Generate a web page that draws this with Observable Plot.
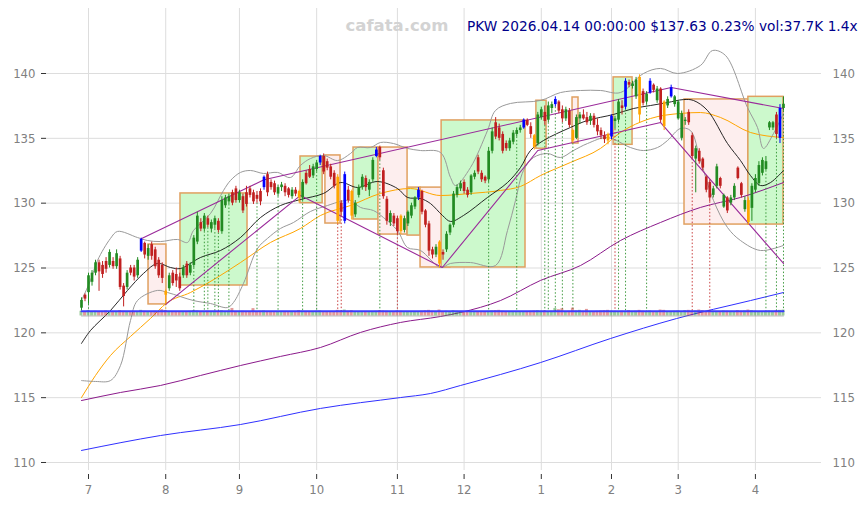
<!DOCTYPE html>
<html><head><meta charset="utf-8">
<script src="https://cdn.jsdelivr.net/npm/d3@7"></script>
<script src="https://cdn.jsdelivr.net/npm/@observablehq/plot@0.6"></script>
<style>
html,body{margin:0;padding:0;background:#fff;}
</style></head>
<body><div id="chart"></div>
<script>
// ---- data (bar index 0 = 2025-06-27, 200 = 2026-04-14) ----
const opens = [
121.9,122.9,123.1,123.9,124.6,125.4,125.2,125.5,125.2,125.5,
125.1,125.7,123.6,123.5,125.0,125.0,124.4,126.3,126.9,125.9,
126.8,126.4,125.6,125.2,123.2,123.4,124.6,124.5,124.3,124.4,
125.3,124.6,125.2,127.0,128.5,128.0,128.8,128.0,128.3,128.6,
127.8,129.8,130.1,130.8,131.1,130.2,130.5,130.8,131.1,130.8,
130.6,130.9,131.2,132.2,131.6,131.5,130.7,131.2,131.3,131.1,
130.5,131.0,130.9,130.4,132.3,132.6,132.1,132.6,133.1,133.6,
133.2,132.8,132.3,132.0,130.0,128.6,131.0,130.9,129.1,130.6,
131.2,131.9,131.0,131.8,133.6,134.3,132.5,130.3,128.5,129.0,
128.8,129.0,127.9,128.4,129.0,129.7,130.4,130.9,129.4,128.4,
126.4,126.0,127.0,126.2,126.4,127.7,128.3,130.6,131.1,131.6,
131.0,130.8,132.0,133.5,132.3,132.0,131.8,134.0,136.2,135.8,
135.3,134.6,134.2,134.7,135.3,135.6,135.8,136.4,135.9,135.2,
134.6,136.6,137.0,136.4,137.3,137.6,137.8,137.2,136.5,137.1,
135.6,135.0,136.5,136.8,136.6,136.3,136.7,136.0,135.6,135.2,
135.3,135.1,136.3,136.4,137.5,137.4,139.3,139.0,138.2,139.7,
138.6,137.8,138.5,139.1,137.9,138.8,137.8,137.5,138.2,137.6,
136.5,135.0,136.3,137.0,135.2,133.4,134.0,133.4,132.0,131.6,
130.6,131.3,131.9,129.7,130.4,130.0,130.4,132.7,131.5,129.5,
130.2,129.6,131.0,131.5,132.3,132.6,135.8,135.8,136.8,135.0,
137.3];
const highs = [
122.7,123.0,124.6,124.8,125.6,125.6,125.5,125.8,126.4,125.8,
126.4,125.9,123.8,124.8,125.2,125.2,125.8,127.3,127.0,126.8,
127.0,126.6,125.8,125.4,123.3,124.6,124.8,125.0,124.6,125.2,
125.5,125.4,127.5,129.3,128.8,129.2,129.0,128.7,129.0,128.8,
130.5,130.6,130.7,131.0,131.3,131.0,130.7,131.3,131.3,131.0,
130.9,131.1,132.1,132.4,131.8,131.7,131.4,131.6,131.5,131.2,
131.2,131.2,131.0,131.8,132.5,132.9,133.0,133.3,133.7,133.8,
133.4,133.0,132.5,132.2,130.2,132.4,131.3,131.0,130.2,131.4,
132.2,132.1,131.8,133.5,134.3,134.4,132.7,130.5,129.4,129.2,
129.0,129.1,129.0,129.4,130.0,130.5,131.2,131.0,129.5,128.6,
126.6,126.8,127.1,126.4,127.8,128.4,130.9,131.4,131.7,131.8,
131.2,132.2,132.5,133.7,132.5,132.1,134.3,135.8,136.6,136.1,
135.5,134.8,135.0,135.6,135.8,136.0,136.5,136.5,136.2,135.3,
137.0,137.4,137.5,137.8,137.8,138.2,137.9,137.5,137.4,137.3,
135.7,136.8,137.0,137.2,137.0,136.9,136.9,136.5,135.8,135.5,
135.4,136.8,136.7,138.0,137.9,139.6,139.5,139.4,139.7,139.9,
138.8,138.6,139.6,139.2,139.0,138.9,137.9,138.2,139.1,138.3,
137.9,137.1,136.6,137.2,135.4,134.4,134.2,133.5,132.1,131.8,
131.3,133.0,132.0,130.7,130.5,130.6,131.5,132.8,131.6,130.5,
130.4,131.5,132.2,133.2,133.5,133.6,136.3,136.3,137.0,137.6,
138.2];
const lows = [
121.7,122.4,122.2,123.6,124.4,123.2,124.2,124.6,125.0,124.9,
124.9,123.3,122.0,123.3,124.4,124.0,124.2,126.2,125.7,125.6,
125.6,124.9,124.2,123.8,122.2,123.2,123.6,123.5,123.2,124.2,
124.2,124.4,125.0,126.8,127.8,127.8,128.1,127.7,128.0,127.7,
127.6,129.6,129.9,129.8,130.0,130.0,129.2,129.7,130.4,129.9,
130.0,129.8,131.0,130.5,131.0,130.6,130.5,130.9,130.5,130.4,
130.3,130.5,130.0,130.2,131.4,131.9,131.9,132.4,132.9,132.2,
132.5,131.8,131.1,128.4,129.0,128.4,130.0,128.7,128.9,130.4,
131.0,130.9,130.5,131.6,133.5,133.3,130.3,128.3,128.2,128.2,
127.6,127.6,127.7,128.2,128.8,129.5,130.2,129.1,128.1,125.9,
125.7,125.8,125.0,125.6,126.2,127.5,128.1,130.4,130.9,130.7,
130.4,130.6,131.8,132.2,131.6,131.5,131.6,133.8,134.9,134.8,
133.8,134.0,134.0,134.5,135.1,135.4,135.7,135.9,135.0,134.1,
134.4,136.4,136.0,136.2,136.9,137.4,136.9,136.2,136.3,135.8,
134.6,134.9,136.1,136.4,136.0,136.0,135.8,135.2,134.9,134.6,
134.5,134.9,135.7,136.2,136.8,137.2,138.9,138.8,138.0,136.2,
137.5,137.6,138.4,138.5,137.7,136.2,135.6,137.3,138.1,137.4,
136.4,134.8,136.0,136.0,133.4,130.8,133.0,132.5,130.8,130.1,
130.4,131.1,131.1,129.6,129.2,129.8,130.2,131.8,130.4,129.3,
128.3,128.6,130.8,131.3,132.1,132.5,135.6,135.6,135.0,134.6,
137.1];
const closes = [
122.5,122.6,124.4,124.6,125.4,124.7,124.5,124.9,126.2,125.1,
126.1,123.5,122.8,124.6,124.6,124.3,125.6,127.2,126.0,126.5,
125.9,125.1,124.4,124.2,122.9,124.4,123.8,124.0,123.4,125.0,
124.4,125.2,127.3,129.0,128.0,129.0,128.3,128.5,128.8,127.9,
130.2,130.4,130.5,130.0,130.2,130.8,129.4,129.9,130.6,130.1,
130.3,130.1,132.0,130.8,131.2,130.8,131.2,131.4,130.8,130.6,
131.0,130.7,130.4,131.6,131.5,132.0,132.8,133.1,133.6,132.4,
132.7,132.0,131.3,128.6,129.3,132.2,130.2,129.0,130.0,131.2,
132.0,131.2,131.6,133.3,134.1,133.5,130.5,128.6,129.2,128.4,
127.8,127.8,128.8,129.3,129.8,130.4,131.0,129.3,128.3,126.3,
126.0,126.6,125.3,126.0,127.6,128.3,130.7,131.2,131.5,130.9,
130.6,132.1,132.3,132.4,131.8,131.7,134.0,135.5,135.1,135.0,
134.0,134.2,134.8,135.4,135.6,135.8,136.4,136.0,135.3,134.3,
136.8,137.2,136.3,137.5,137.6,138.0,137.1,136.5,137.2,136.0,
134.8,136.6,136.8,136.5,136.2,136.7,136.0,135.5,135.2,134.9,
134.8,136.7,136.5,137.8,137.3,139.4,139.1,139.2,139.5,136.8,
137.7,138.4,139.4,138.7,138.8,136.4,135.9,138.0,138.9,138.2,
137.8,136.9,136.4,136.2,133.6,134.2,133.2,132.7,131.0,130.4,
131.1,132.8,131.3,130.6,129.4,130.4,131.3,131.9,130.6,130.2,
128.5,131.3,131.9,132.9,133.3,133.2,136.2,136.2,135.3,137.3,
137.63];
const volumes = [
30,25,35,28,30,26,24,32,27,25, 26,34,30,25,22,24,28,36,30,26,
28,30,27,40,35,26,24,25,28,23, 22,30,34,32,25,26,30,24,28,26,
33,27,30,48,28,26,30,25,27,47, 28,30,32,26,24,22,28,26,25,24,
26,24,35,30,28,26,27,30,32,28, 26,24,28,36,32,38,30,34,28,26,
25,24,26,28,30,34,32,30,26,28, 32,30,26,24,22,26,28,30,33,36,
30,28,38,26,30,28,34,30,26,24, 25,27,24,26,28,25,30,32,34,36,
30,28,26,24,25,27,26,28,30,32, 34,30,32,26,30,48,40,46,28,30,
50,32,36,30,42,28,26,30,32,34, 36,30,28,26,30,28,34,26,30,36,
30,28,32,26,24,38,36,28,26,30, 32,28,34,36,30,32,38,34,28,36,
30,28,26,32,30,28,26,34,30,32, 38,34,30,28,26,24,32,30,34,36,
38];
const blueIdx = [17,52,68,75,84,96,126,135,151,155,162,168,199];
const orangeIdx = [24,62,73,77,91,102,129,140,150,159,166,190];
const greenDots = [2,32,35,36,38,39,42,50,56,63,67,85,116,124,132,133,135,137,140,153,155,161,195,198,200];
const redDots = [73,74,90,152,174,179];
const orangeDots = [24];

// moving averages and bands: [bar index, price]
const ma20 = [[0,119.18],[2.56,120.18],[8.26,121.72],[13.11,123.27],[17.66,124.58],[21.65,125.35],[25.36,125.04],[28.2,124.96],[33.9,125.81],[39.6,126.35],[45.3,127.35],[51,128.89],[56.7,129.82],[62.39,130.28],[68.95,130.75],[73.79,131.59],[78.63,131.21],[84.33,131.67],[90.03,131.13],[92.88,130.44],[96.58,130.36],[99.43,129.97],[102.85,129.05],[105.13,128.59],[108.83,129.05],[115.67,130.44],[121.37,131.59],[125.07,132.75],[127.92,134.06],[131.62,134.83],[139.32,135.84],[144.16,136.38],[151.57,136.84],[157.26,137.3],[162.11,137.53],[166.95,137.76],[171.51,137.99],[174.36,137.92],[178.35,137.15],[184.05,134.6],[187.75,133.29],[190.6,132.13],[193.45,131.36],[196.3,131.59],[200,132.52]];
const ma50 = [[0,115.01],[3.99,116.71],[8.26,118.25],[13.96,119.72],[19.66,121.11],[24.22,122.29],[31.05,123.11],[38.18,124.19],[45.3,125.42],[53.85,126.97],[62.39,128.05],[68.09,129.05],[76.64,129.82],[85.19,130.75],[93.73,131.13],[102.28,130.59],[110.83,130.75],[119.37,130.98],[125.07,131.29],[130.77,132.13],[139.32,133.14],[147.86,134.22],[153.56,135.45],[162.11,136.53],[170.66,136.92],[176.35,136.99],[182.05,136.61],[190.6,135.45],[200,135.06]];
const ma100 = [[0,114.78],[11.11,115.4],[22.51,115.94],[33.9,116.71],[45.3,117.48],[56.7,118.18],[68.09,118.87],[79.49,120.03],[90.88,120.8],[102.28,121.26],[107.98,121.57],[119.37,122.49],[130.77,124.04],[142.17,125.19],[153.56,127.12],[164.96,128.51],[176.35,129.67],[187.75,130.44],[200,131.59]];
const ma200 = [[0,110.93],[22.5,112.08],[45.3,112.93],[68.1,114.17],[90.9,115.01],[99.4,115.32],[108,115.94],[130.8,117.71],[150.7,119.56],[169.5,121.1],[190.6,122.49],[200,123.11]];
const bbUpper = [[0,122.49],[2.56,124.04],[4.56,125.58],[8.26,127.28],[10.26,127.82],[15.95,127.35],[18.8,127.12],[22.51,127.04],[27.35,127.2],[30.2,126.97],[31.9,127.89],[36.75,129.2],[40.46,130.98],[42.45,131.75],[45.3,132.37],[48.15,132.52],[51.85,132.29],[55.84,132.37],[59.54,131.98],[62.39,132.91],[65.24,133.44],[68.95,133.68],[72.93,133.29],[76.64,133.83],[78.63,134.29],[82.34,134.29],[85.19,134.68],[88.89,134.6],[92.88,134.22],[96.58,134.06],[102.28,133.91],[105.13,131.98],[106.55,131.36],[110.83,132.75],[115.67,135.6],[117.95,137.15],[122.22,137.69],[130.77,137.92],[136.47,138.53],[142.17,138.69],[147.86,138.69],[153.56,138.53],[160.11,140.0],[164.96,140.39],[169.8,140.0],[176.35,140.62],[179.77,141.77],[183.48,141.39],[189.74,137.38],[192.59,135.84],[194.3,134.22],[197.15,135.37],[200,136.92]];
const bbLower = [[0,116.32],[3.99,116.25],[8.26,116.32],[11.11,117.48],[13.96,120.95],[15.95,122.49],[21.65,123.27],[24.5,123.11],[31.9,122.49],[36.75,122.26],[41.6,121.95],[43.3,122.34],[46.15,123.81],[50.14,126.5],[52.99,127.28],[56.7,128.05],[60.4,128.51],[65.24,129.36],[70.09,129.82],[73.79,130.13],[76.64,130.21],[79.49,129.67],[83.19,129.43],[86.04,128.89],[90.03,127.89],[92.88,126.58],[96.58,126.35],[102.28,125.04],[105.13,125.35],[110.83,125.42],[117.95,125.19],[121.37,127.89],[123.65,130.21],[125.93,132.52],[128.77,133.52],[132.76,133.83],[136.47,133.52],[140.17,134.06],[144.16,134.6],[149.86,135.06],[156.41,134.29],[160.11,134.06],[164.1,134.29],[166.95,134.83],[170.66,135.76],[173.5,135.6],[176.35,133.29],[180.06,130.21],[184.05,128.12],[187.75,127.12],[193.45,126.35],[200,126.74]];
const trendUpper = [[17,127.25],[52,131.8],[168,138.92],[200,137.3]];
const trendLower = [[24,122.2],[62.4,130.6],[102.8,125.04],[130,134.06],[165,136.22],[200,125.35]];

const boxStart = [19.1,28.2,62.4,69.5,77.5,84.6,92.9,96.6,102.6,129.6,139.9,151.6,171.8,190];
const boxEnd   = [24.2,47.3,68.7,73.8,84.6,92.9,96.6,105.1,126.5,132.5,141.6,157,190,200];
const boxLow   = [122.19,123.65,130.0,128.43,128.74,127.58,127.5,125.04,125.04,134.2,134.6,134.5,128.35,128.35];
const boxHigh  = [126.81,130.75,133.6,133.68,134.29,134.29,131.2,131.2,136.38,137.9,138.15,139.7,138.0,138.2];
const boxType  = ["r","g","g","r","g","r","g","r","g","g","r","g","r","g"];

const monthIdx = [2,24,45,67,90,109,131,151,170,192];
const monthLabels = ["7","8","9","10","11","12","1","2","3","4"];
const yTicks = [110,115,120,125,130,135,140];
const titleText = "PKW 2026.04.14 00:00:00 $137.63 0.23% vol:37.7K 1.4x";
const watermark = "cafata.com";

// ---- build ----
const GREEN = "#228b22", RED = "#c02020", BLUE = "#0000ff", ORANGE = "#ffa500";
const bars = closes.map((c, i) => ({i, o: opens[i], h: highs[i], l: lows[i], c, v: volumes[i]}));
const colorOf = d => blueIdx.includes(d.i) ? BLUE : orangeIdx.includes(d.i) ? ORANGE : (d.c >= d.o ? GREEN : RED);
const bodyLo = d => Math.min(d.o, d.c);
const bodyHi = d => Math.max(Math.max(d.o, d.c), Math.min(d.o, d.c) + 0.07);
const boxes = boxStart.map((s, k) => ({s, e: boxEnd[k], lo: boxLow[k], hi: boxHigh[k], t: boxType[k]}));
const volBase = 121.3;
const avgVol = d3.mean(volumes);
const volK = 0.36 / avgVol;
const dots = [
  ...greenDots.map(i => ({i, col: GREEN})),
  ...redDots.map(i => ({i, col: RED})),
  ...orangeDots.map(i => ({i, col: ORANGE}))
];
const FONT = "'DejaVu Sans Condensed','DejaVu Sans',sans-serif";

const chart = Plot.plot({
  width: 867, height: 505,
  marginLeft: 46, marginRight: 46, marginTop: 8, marginBottom: 35,
  x: {domain: [-9.97, 210.83]},
  y: {domain: [109.383, 145.013]},
  style: {fontFamily: FONT, fontSize: "13px", background: "#fff"},
  marks: [
    Plot.gridY(yTicks, {stroke: "#dddddd", strokeOpacity: 1}),
    Plot.gridX(monthIdx, {stroke: "#dddddd", strokeOpacity: 1}),
    Plot.rect(boxes, {x1: "s", x2: "e", y1: "lo", y2: "hi",
      fill: d => d.t === "g" ? "#ccf9cc" : "#fdeeee", stroke: "#e0a060", strokeWidth: 1.5}),
    Plot.line(ma200, {stroke: "#3030ff", strokeWidth: 1, curve: "monotone-x"}),
    Plot.line(ma100, {stroke: "#8b1a8b", strokeWidth: 1, curve: "monotone-x"}),
    Plot.line(ma50, {stroke: "#ffa500", strokeWidth: 1, curve: "monotone-x"}),
    Plot.line(bbUpper, {stroke: "#999", strokeWidth: 1, curve: "catmull-rom"}),
    Plot.line(bbLower, {stroke: "#999", strokeWidth: 1, curve: "catmull-rom"}),
    Plot.line(ma20, {stroke: "#111", strokeWidth: 0.9, curve: "catmull-rom"}),
    Plot.ruleX(dots, {x: "i", y1: d => lows[d.i], y2: volBase + 0.3, stroke: "col",
      strokeWidth: 1, strokeDasharray: "1.5,2", strokeOpacity: 0.85}),
    Plot.rect(bars, {x1: d => d.i - 0.42, x2: d => d.i + 0.42, y1: volBase, y2: d => volBase + d.v * volK,
      fill: d => d.c >= d.o ? GREEN : RED, fillOpacity: 0.45}),
    Plot.line([[0, volBase], [200, volBase]], {stroke: "#888", strokeWidth: 1, strokeOpacity: 0.6}),
    Plot.line([[0, volBase + 0.36], [200, volBase + 0.36]], {stroke: "#3a3aff", strokeWidth: 2}),
    Plot.line(trendUpper, {stroke: "#9a2a9a", strokeWidth: 1.1}),
    Plot.line(trendLower, {stroke: "#9a2a9a", strokeWidth: 1.1}),
    Plot.ruleX(bars, {x: "i", y1: "l", y2: "h", stroke: colorOf, strokeWidth: 1}),
    Plot.ruleX(bars, {x: "i", y1: bodyLo, y2: bodyHi, stroke: colorOf, strokeWidth: 2.7}),
    Plot.axisY(yTicks, {anchor: "left", tickSize: 5, tickPadding: 6, stroke: "#333", fill: "#808080", fontSize: 13}),
    Plot.axisY(yTicks, {anchor: "right", tickSize: 0, tickPadding: 11, fill: "#808080", fontSize: 13}),
    Plot.axisX(monthIdx, {anchor: "bottom", tickSize: 5, tickPadding: 5, dy: 4, stroke: "#333", fill: "#808080", fontSize: 13,
      tickFormat: d => monthLabels[monthIdx.indexOf(d)]}),
    Plot.text([watermark], {frameAnchor: "top-left", dx: 299, dy: 17, textAnchor: "start", lineAnchor: "middle",
      fill: "#d3d3d3", fontSize: 16.5, fontWeight: "bold", fontFamily: "DejaVu Sans"}),
    Plot.text([titleText], {frameAnchor: "top-right", dx: 36, dy: 18, textAnchor: "end", lineAnchor: "middle",
      fill: "#00008b", fontSize: 13.7, fontFamily: "DejaVu Sans"})
  ]
});
document.getElementById("chart").appendChild(chart);
</script>
</body></html>
